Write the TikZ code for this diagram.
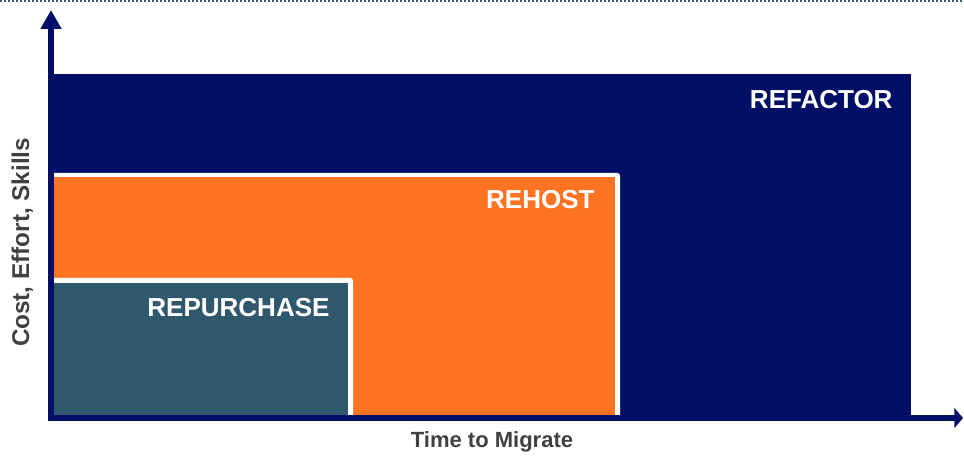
\documentclass[tikz,border=0pt]{standalone}
\usepackage{fontspec}
\setmainfont{Liberation Sans}
\usetikzlibrary{arrows.meta}

\definecolor{refactorblue}{RGB}{2,15,102}
\definecolor{rehostorange}{RGB}{255,115,34}
\definecolor{repurchaseteal}{RGB}{47,88,108}
\definecolor{labelgray}{RGB}{64,64,64}
\definecolor{dotgray}{RGB}{58,94,112}

\begin{document}
\begin{tikzpicture}[x=0.75pt, y=0.75pt, line width=0.75pt,
    boxlabel/.style={anchor=base east, text=white, inner sep=0pt,
      font=\fontsize{19.5}{22}\selectfont\bfseries},
    axislabel/.style={text=labelgray, inner sep=0pt}]
    \useasboundingbox (0, 0) rectangle (964, 459);

    % draw dotted rule along the top
    \draw[color=dotgray, line width=1.5pt, dash pattern=on 1.5pt off 1.5pt]
      (0, 458) -- (964, 458);

    % draw refactor block
    \fill[color=refactorblue] (48, 41) rectangle (911, 385);

    % draw rehost block with white edge
    \fill[color=white, rounded corners=2] (51, 38) rectangle (620, 286);
    \fill[color=rehostorange] (54, 44) rectangle (615, 282);

    % draw repurchase block with white edge
    \fill[color=white, rounded corners=2] (51, 38) rectangle (353, 181);
    \fill[color=repurchaseteal] (54, 44) rectangle (348, 176);

    % draw axes
    \coordinate (origin) at (51, 41);
    \coordinate (ytop) at (51, 449);
    \coordinate (xend) at (963, 41);
    \draw[color=refactorblue, line width=4.5pt, line cap=rect,
      -{Triangle[length=14.25pt, width=15pt]}] (origin) -- (ytop);
    \draw[color=refactorblue, line width=4.5pt, line cap=rect,
      -{Triangle[length=6.5pt, width=15pt]}] (origin) -- (xend);

    % block labels
    \node[boxlabel] (refactor) at (893, 350) {REFACTOR};
    \node[boxlabel] (rehost) at (595, 250) {REHOST};
    \node[boxlabel] (repurchase) at (330, 142) {REPURCHASE};

    % axis labels
    \node[axislabel, rotate=90, anchor=base, font=\fontsize{18.2}{20}\selectfont\bfseries]
      (ylabel) at (29, 216.5) {Cost, Effort, Skills};
    \node[axislabel, anchor=base, font=\fontsize{16.5}{18}\selectfont\bfseries]
      (xlabel) at (492, 11) {Time to Migrate};
\end{tikzpicture}
\end{document}
